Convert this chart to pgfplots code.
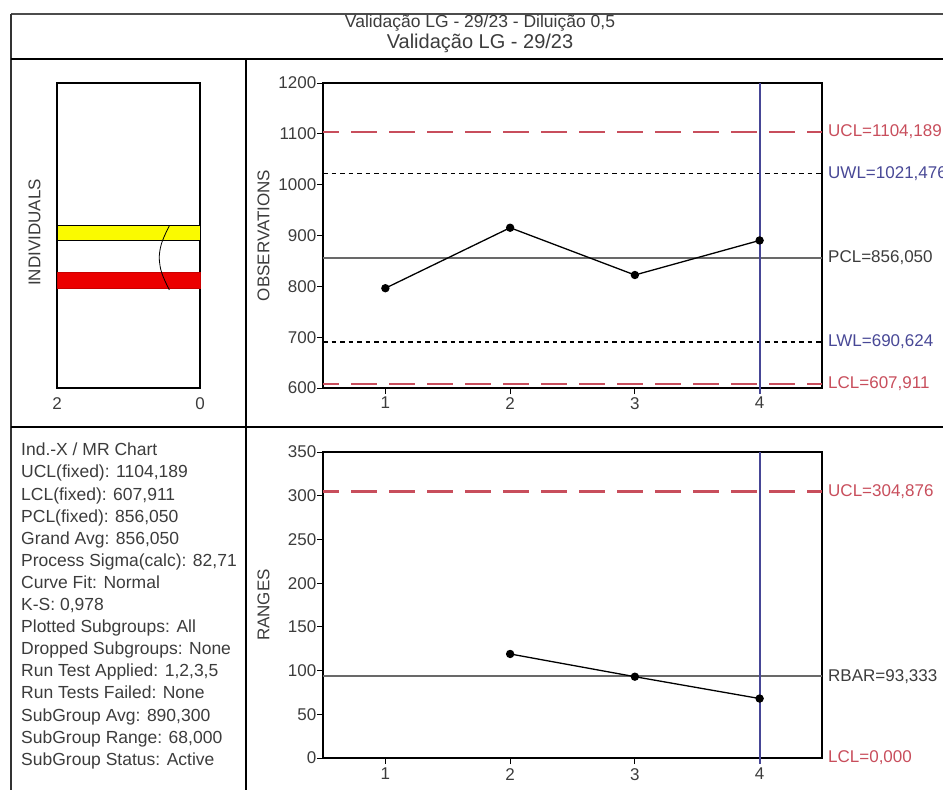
\documentclass[border=0pt]{standalone}
\usepackage{pgfplots}
\pgfplotsset{compat=1.18}
\usepackage{fontspec}
\setmainfont{Liberation Sans}
\definecolor{ucl}{RGB}{200,78,92}
\definecolor{uwl}{RGB}{72,72,150}
\definecolor{pcl}{RGB}{105,105,105}
\definecolor{txt}{RGB}{60,60,60}
\definecolor{cur}{RGB}{70,70,150}
\definecolor{hyel}{RGB}{250,250,0}
\definecolor{hred}{RGB}{235,0,0}
\pgfplotsset{
  mystyle/.style={
    scale only axis,
    font=\fontsize{17}{20}\selectfont,
    /pgf/number format/assume math mode=true,
    /pgf/number format/1000 sep={},
    tick align=outside,
    major tick length=6pt,
    xtick pos=left, ytick pos=left,
    tick style={black, line width=1pt},
    ticklabel style={text=txt},
    yticklabel style={inner xsep=0.5pt},
    xticklabel style={inner ysep=3pt},
    axis line style={black, line width=1.2pt},
    clip=false,
  },
}
\tikzset{
  ctrl/.style={ucl, line width=2.2pt, dash pattern=on 26pt off 12pt, dash phase=10pt},
  warn/.style={black, line width=1.4pt, dash pattern=on 4.5pt off 4pt},
  cent/.style={pcl, line width=2pt},
  lab/.style={anchor=west, inner sep=0pt, xshift=6pt},
}
\begin{document}
\begin{tikzpicture}
\useasboundingbox (0,0) rectangle (943pt,-790pt);
% frame
\draw[line width=2pt, black!70] (11pt,-14pt) -- (943pt,-14pt);
\draw[line width=2pt, black!80] (11pt,-14pt) -- (11pt,-790pt);
\draw[line width=2.5pt] (11pt,-59pt) -- (943pt,-59pt);
\draw[line width=2pt] (246pt,-59pt) -- (246pt,-790pt);
\draw[line width=2.5pt] (11pt,-427pt) -- (943pt,-427pt);
% title
\node[font=\fontsize{17.5}{20}\selectfont, text=txt] at (480pt,-23pt) {Validação LG - 29/23 - Diluição 0,5};
\node[font=\fontsize{20}{22}\selectfont, text=txt] at (480pt,-43pt) {Validação LG - 29/23};
% info text
\node[anchor=north west, align=left, inner sep=0pt, font=\fontsize{17.5}{22.1}\selectfont, text=txt] at (21pt,-443pt) {Ind.-X / MR Chart\\
UCL(fixed): 1104,189\\
LCL(fixed): 607,911\\
PCL(fixed): 856,050\\
Grand Avg: 856,050\\
Process Sigma(calc): 82,71\\
Curve Fit: Normal\\
K-S: 0,978\\
Plotted Subgroups: All\\
Dropped Subgroups: None\\
Run Test Applied: 1,2,3,5\\
Run Tests Failed: None\\
SubGroup Avg: 890,300\\
SubGroup Range: 68,000\\
SubGroup Status: Active};

% histogram
\begin{axis}[mystyle, at={(57pt,-388pt)}, anchor=south west,
  width=143pt, height=305pt,
  xmin=0, xmax=2, x dir=reverse, ymin=600, ymax=1200,
  xtick={0,2}, ytick=\empty, major tick length=0pt,
  xticklabel style={inner ysep=9pt},
  ylabel={INDIVIDUALS},
  every axis y label/.style={at={(rel axis cs:0,0.5)}, xshift=-22.5pt, yshift=3pt, rotate=90, anchor=center, text=txt},
  axis line style={black, line width=1.5pt}]
\addplot[draw=black, line width=0.8pt, fill=hyel] coordinates {(0,889.5) (2,889.5) (2,919.5) (0,919.5)} -- cycle;
\addplot[draw=hred!85!black, line width=0.8pt, fill=hred] coordinates {(0,796.5) (2,796.5) (2,826.5) (0,826.5)} -- cycle;
\addplot[black, line width=0.8pt, smooth] coordinates {(0.429,919) (0.478,905) (0.524,890) (0.555,875) (0.570,856) (0.552,835) (0.518,820) (0.471,805) (0.429,793)};
\end{axis}

% observations chart
\begin{axis}[mystyle, at={(323pt,-388pt)}, anchor=south west,
  width=499pt, height=305pt,
  xmin=0.5, xmax=4.5, ymin=600, ymax=1200,
  xtick={1,2,3,4}, ytick={600,700,...,1200},
  ylabel={OBSERVATIONS},
  every axis y label/.style={at={(rel axis cs:0,0.5)}, xshift=-59.5pt, rotate=90, anchor=center, text=txt}]
\addplot[ctrl] coordinates {(0.5,1104.189) (4.5,1104.189)};
\addplot[ctrl] coordinates {(0.5,607.911) (4.5,607.911)};
\addplot[warn] coordinates {(0.5,1021.476) (4.5,1021.476)};
\addplot[warn] coordinates {(0.5,690.624) (4.5,690.624)};
\addplot[cent] coordinates {(0.5,856.050) (4.5,856.050)};
\draw[cur, line width=1.8pt] (axis cs:4,1200) -- ([yshift=-6pt]axis cs:4,600);
\addplot[black, line width=1.3pt, mark=*, mark size=3.5pt] coordinates {(1,796.3) (2,915.3) (3,822.3) (4,890.3)};
\node[lab, text=ucl] at (axis cs:4.5,1104.189) {UCL=1104,189};
\node[lab, text=uwl] at (axis cs:4.5,1021.476) {UWL=1021,476};
\node[lab, text=txt] at (axis cs:4.5,856.050) {PCL=856,050};
\node[lab, text=uwl] at (axis cs:4.5,690.624) {LWL=690,624};
\node[lab, text=ucl] at (axis cs:4.5,607.911) {LCL=607,911};
\end{axis}

% ranges chart
\begin{axis}[mystyle, at={(323pt,-758pt)}, anchor=south west,
  width=499pt, height=306pt,
  xmin=0.5, xmax=4.5, ymin=0, ymax=350,
  xtick={1,2,3,4}, ytick={0,50,...,350},
  xticklabel style={inner ysep=4pt},
  ylabel={RANGES},
  every axis y label/.style={at={(rel axis cs:0,0.5)}, xshift=-59.5pt, rotate=90, anchor=center, text=txt}]
\addplot[ctrl] coordinates {(0.5,304.876) (4.5,304.876)};
\addplot[cent] coordinates {(0.5,93.333) (4.5,93.333)};
\draw[cur, line width=1.8pt] (axis cs:4,350) -- ([yshift=-6pt]axis cs:4,0);
\addplot[black, line width=1.3pt, mark=*, mark size=3.5pt] coordinates {(2,119) (3,93) (4,68)};
\node[lab, text=ucl] at (axis cs:4.5,304.876) {UCL=304,876};
\node[lab, text=txt] at (axis cs:4.5,93.333) {RBAR=93,333};
\node[lab, text=ucl] at (axis cs:4.5,0) {LCL=0,000};
\end{axis}
\end{tikzpicture}
\end{document}
